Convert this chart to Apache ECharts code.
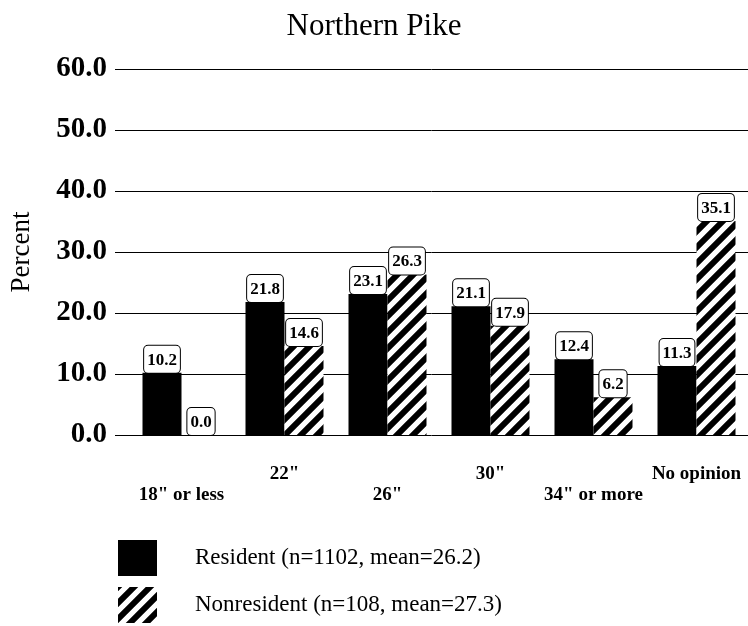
<!DOCTYPE html>
<html>
<head>
<meta charset="utf-8">
<title>Northern Pike</title>
<script src="https://cdn.jsdelivr.net/npm/echarts@6/dist/echarts.min.js"></script>
<style>
  html, body { margin: 0; padding: 0; background: #fff; }
</style>
</head>
<body>
<div id="myChart" style="width:748px;height:626px;"></div>
<script>
// data
var categories = ['18" or less', '22"', '26"', '30"', '34" or more', 'No opinion']
var residentName = 'Resident (n=1102, mean=26.2)'
var nonresidentName = 'Nonresident (n=108, mean=27.3)'
var residentValues = [10.2, 21.8, 23.1, 21.1, 12.4, 11.3]
var nonresidentValues = [0.0, 14.6, 26.3, 17.9, 6.2, 35.1]
var yTicks = [0, 10, 20, 30, 40, 50, 60]

var serif = '"Liberation Serif", "DejaVu Serif", serif'

// diagonal stripe pattern for the nonresident bars
function makeHatch () {
  var s = 16
  var c = document.createElement('canvas')
  c.width = s
  c.height = s
  var ctx = c.getContext('2d')
  ctx.fillStyle = '#fff'
  ctx.fillRect(0, 0, s, s)
  ctx.strokeStyle = '#000'
  ctx.lineWidth = 6
  ctx.beginPath()
  ctx.moveTo(0, s); ctx.lineTo(s, 0)
  ctx.moveTo(-s / 2, s / 2); ctx.lineTo(s / 2, -s / 2)
  ctx.moveTo(s / 2, s * 1.5); ctx.lineTo(s * 1.5, s / 2)
  ctx.stroke()
  return c
}
var hatch = { image: makeHatch(), repeat: 'repeat' }

var barLabel = {
  show: true,
  position: 'top',
  distance: 0,
  formatter: function (p) { return p.value.toFixed(1) },
  color: '#000',
  fontFamily: serif,
  fontWeight: 'bold',
  fontSize: 17,
  backgroundColor: '#fff',
  borderColor: '#000',
  borderWidth: 1,
  borderRadius: 4,
  padding: [6, 3, 4, 3]
}

var myChart = echarts.init(document.getElementById('myChart'))
myChart.setOption({
  animation: false,
  title: {
    text: 'Northern Pike',
    left: 'center',
    top: 6,
    textStyle: { fontFamily: serif, fontWeight: 'normal', fontSize: 31, color: '#000' }
  },
  legend: {
    orient: 'vertical',
    left: 118,
    top: 540,
    padding: 0,
    itemWidth: 39,
    itemHeight: 36,
    itemGap: 11,
    icon: 'rect',
    selectedMode: false,
    data: [residentName, nonresidentName],
    textStyle: { fontFamily: serif, fontSize: 23, color: '#000', padding: [0, 0, 0, 33] }
  },
  grid: [
    // gridlines and y labels
    { left: 110, right: 0, top: 69, bottom: 191 },
    // bars
    { left: 130, width: 620, top: 69, bottom: 191 }
  ],
  xAxis: [
    { gridIndex: 0, type: 'value', show: false, min: 0, max: 1 },
    {
      gridIndex: 1,
      type: 'category',
      data: categories,
      axisLine: { show: false },
      axisTick: { show: false },
      axisLabel: {
        interval: 0,
        margin: 29,
        lineHeight: 21,
        fontFamily: serif,
        fontWeight: 'bold',
        fontSize: 19,
        color: '#000',
        // labels alternate between two rows
        formatter: function (v, i) { return i % 2 === 0 ? '\n' + v : v }
      }
    }
  ],
  yAxis: [
    {
      gridIndex: 0,
      type: 'value',
      min: yTicks[0],
      max: yTicks[yTicks.length - 1],
      interval: 10,
      name: 'Percent',
      nameLocation: 'middle',
      nameGap: 80,
      nameRotate: 90,
      nameTextStyle: { fontFamily: serif, fontSize: 27, color: '#000' },
      axisLine: { show: false },
      axisTick: { show: false },
      axisLabel: {
        margin: 8,
        fontFamily: serif,
        fontWeight: 'bold',
        fontSize: 29,
        color: '#000',
        formatter: function (v) { return v.toFixed(1) }
      },
      splitLine: { show: true, lineStyle: { color: '#000', width: 1 } }
    },
    { gridIndex: 1, type: 'value', min: 0, max: 60, show: false }
  ],
  series: [
    {
      name: residentName,
      type: 'bar',
      xAxisIndex: 1,
      yAxisIndex: 1,
      barWidth: 39,
      barGap: '0%',
      itemStyle: { color: '#000' },
      label: barLabel,
      data: residentValues
    },
    {
      name: nonresidentName,
      type: 'bar',
      xAxisIndex: 1,
      yAxisIndex: 1,
      barWidth: 39,
      barGap: '0%',
      itemStyle: { color: hatch },
      label: barLabel,
      data: nonresidentValues
    }
  ]
})
</script>
</body>
</html>
